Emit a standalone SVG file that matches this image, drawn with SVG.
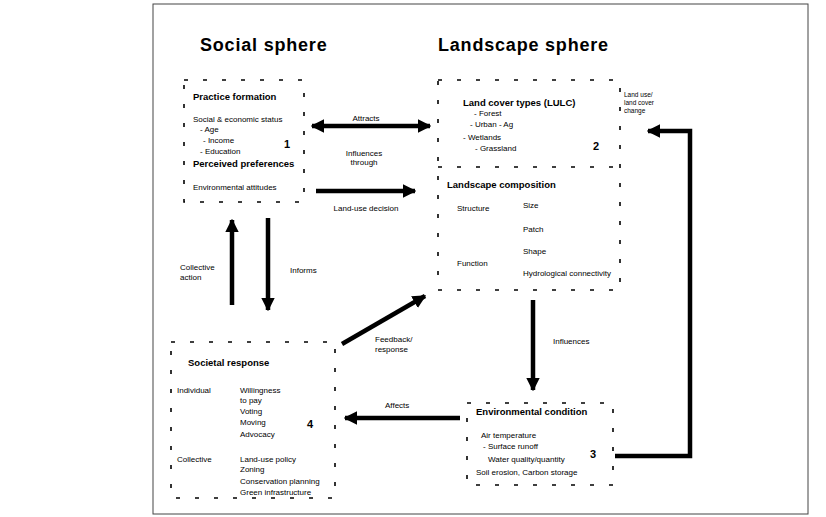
<svg xmlns="http://www.w3.org/2000/svg" width="826" height="517" viewBox="0 0 826 517">
  <style>
    .frame { fill: #fff; stroke: #444; stroke-width: 1; }
    .box { fill: none; stroke: #000; stroke-width: 1.6; stroke-dasharray: 4 15; }
    .title { font-family: "Liberation Sans", Arial, sans-serif; font-size: 18px; font-weight: bold; letter-spacing: 0.8px; fill: #000; }
    .head { font-family: "Liberation Sans", Arial, sans-serif; font-size: 9.5px; font-weight: bold; fill: #000; }
    .txt { font-family: "Liberation Sans", Arial, sans-serif; font-size: 8px; fill: #000; }
    .small { font-family: "Liberation Sans", Arial, sans-serif; font-size: 6.5px; fill: #000; }
    .num { font-family: "Liberation Sans", Arial, sans-serif; font-size: 11px; font-weight: bold; fill: #000; }
    .lbl { font-family: "Liberation Sans", Arial, sans-serif; font-size: 8px; fill: #000; }
    .arrow { fill: none; stroke: #000; stroke-width: 4.5; }
  </style>
  <defs>
    <marker id="head" viewBox="0 0 10 10" refX="9" refY="5" markerWidth="3" markerHeight="3" orient="auto-start-reverse">
      <path d="M0,0 L10,5 L0,10 z" fill="#000"/>
    </marker>
  </defs>

  <!-- page frame -->
  <rect class="frame" x="153" y="4" width="655" height="510"/>

  <text class="title" x="200" y="51">Social sphere</text>
  <text class="title" x="438" y="51">Landscape sphere</text>

  <!-- 1: drivers on the social side -->
  <g id="node-social-drivers">
    <rect class="box" x="184" y="80" width="120" height="122"/>
    <text class="head" x="193" y="100">Practice formation</text>
    <text class="txt" x="193" y="122">Social &amp; economic status</text>
    <text class="txt" x="200" y="132">- Age</text>
    <text class="txt" x="203" y="143">- Income</text>
    <text class="txt" x="200" y="154">- Education</text>
    <text class="head" x="193" y="167">Perceived preferences</text>
    <text class="txt" x="193" y="190">Environmental attitudes</text>
    <text class="num" x="284" y="148">1</text>
  </g>

  <!-- 2: landscape cover and composition -->
  <g id="node-landscape">
    <rect class="box" x="438" y="80" width="182" height="210"/>
    <line class="box" x1="438" y1="167" x2="620" y2="167"/>
    <text class="head" x="463" y="106">Land cover types (LULC)</text>
    <text class="txt" x="474" y="116">- Forest</text>
    <text class="txt" x="470" y="127">- Urban  - Ag</text>
    <text class="txt" x="463" y="140">- Wetlands</text>
    <text class="txt" x="475" y="151">- Grassland</text>
    <text class="num" x="593" y="150">2</text>
    <text class="head" x="447" y="188">Landscape composition</text>
    <text class="txt" x="457" y="211">Structure</text>
    <text class="txt" x="523" y="208">Size</text>
    <text class="txt" x="523" y="232">Patch</text>
    <text class="txt" x="523" y="254">Shape</text>
    <text class="txt" x="457" y="266">Function</text>
    <text class="txt" x="523" y="276">Hydrological connectivity</text>
  </g>

  <!-- 3: environmental condition -->
  <g id="node-environment">
    <rect class="box" x="467" y="403" width="146" height="82"/>
    <text class="head" x="476" y="415">Environmental condition</text>
    <text class="txt" x="481" y="438">Air temperature</text>
    <text class="txt" x="483" y="449">- Surface runoff</text>
    <text class="txt" x="488" y="462">Water quality/quantity</text>
    <text class="txt" x="476" y="475">Soil erosion, Carbon storage</text>
    <text class="num" x="590" y="458">3</text>
  </g>

  <!-- 4: societal response -->
  <g id="node-response">
    <rect class="box" x="171" y="342" width="164" height="156"/>
    <text class="head" x="188" y="366">Societal response</text>
    <text class="txt" x="177" y="393">Individual</text>
    <text class="txt" x="240" y="393">Willingness</text>
    <text class="txt" x="240" y="403">to pay</text>
    <text class="txt" x="240" y="414">Voting</text>
    <text class="txt" x="240" y="425">Moving</text>
    <text class="txt" x="240" y="437">Advocacy</text>
    <text class="num" x="307" y="428">4</text>
    <text class="txt" x="177" y="462">Collective</text>
    <text class="txt" x="240" y="462">Land-use policy</text>
    <text class="txt" x="240" y="472">Zoning</text>
    <text class="txt" x="240" y="484">Conservation planning</text>
    <text class="txt" x="240" y="495">Green infrastructure</text>
  </g>

  <g id="node-lulc-change">
    <text class="small" x="624" y="97">Land use/</text>
    <text class="small" x="624" y="105">land cover</text>
    <text class="small" x="624" y="113">change</text>
  </g>

  <!-- connectors -->
  <g id="connectors">
    <line class="arrow" x1="312" y1="126" x2="430" y2="126" marker-start="url(#head)" marker-end="url(#head)"/>
    <text class="lbl" x="366" y="121" text-anchor="middle">Attracts</text>
    <text class="lbl" x="364" y="156" text-anchor="middle">Influences</text>
    <text class="lbl" x="364" y="165" text-anchor="middle">through</text>
    <line class="arrow" x1="316" y1="191" x2="415" y2="191" marker-end="url(#head)"/>
    <text class="lbl" x="366" y="211" text-anchor="middle">Land-use decision</text>

    <line class="arrow" x1="232" y1="305" x2="232" y2="220" marker-end="url(#head)"/>
    <text class="lbl" x="180" y="270">Collective</text>
    <text class="lbl" x="180" y="280">action</text>
    <line class="arrow" x1="268" y1="218" x2="268" y2="310" marker-end="url(#head)"/>
    <text class="lbl" x="290" y="273">Informs</text>

    <line class="arrow" x1="342" y1="344" x2="425" y2="296" marker-end="url(#head)"/>
    <text class="lbl" x="375" y="342">Feedback/</text>
    <text class="lbl" x="375" y="352">response</text>

    <line class="arrow" x1="533" y1="300" x2="533" y2="390" marker-end="url(#head)"/>
    <text class="lbl" x="553" y="344">Influences</text>

    <line class="arrow" x1="460" y1="418" x2="345" y2="418" marker-end="url(#head)"/>
    <text class="lbl" x="385" y="408">Affects</text>

    <polyline class="arrow" points="615,456 690,456 690,131 648,131" marker-end="url(#head)"/>
  </g>
</svg>
